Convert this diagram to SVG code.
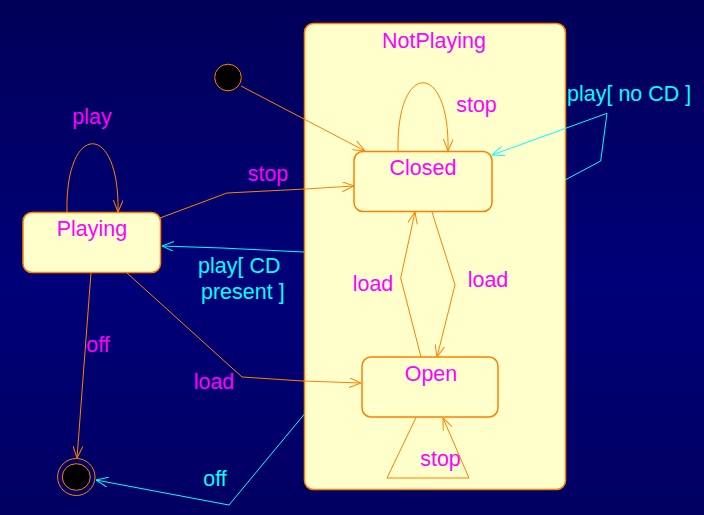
<svg xmlns="http://www.w3.org/2000/svg" width="704" height="515" viewBox="0 0 704 515">
<defs>
<linearGradient id="bg" x1="0" y1="0" x2="0" y2="1">
<stop offset="0" stop-color="#000058"/>
<stop offset="0.55" stop-color="#000078"/>
<stop offset="1" stop-color="#000062"/>
</linearGradient>
<marker id="ao" viewBox="0 0 12 10" refX="12" refY="5" markerWidth="12" markerHeight="10" orient="auto" markerUnits="userSpaceOnUse"><path d="M0,0 L12,5 L0,10" fill="none" stroke="#FF8000" stroke-width="1"/></marker>
<marker id="ac" viewBox="0 0 12 10" refX="12" refY="5" markerWidth="12" markerHeight="10" orient="auto" markerUnits="userSpaceOnUse"><path d="M0,0 L12,5 L0,10" fill="none" stroke="#00FFFF" stroke-width="1"/></marker>
</defs>
<style>
.st{fill:#FFFFCC;stroke:#FF8000;stroke-width:1.5}
.t{font-family:"Liberation Sans",Arial,sans-serif;font-size:21.5px}
.m{fill:#FF00FF}
.c{fill:#00FFFF}
.eo{fill:none;stroke:#FF8000;stroke-width:1;marker-end:url(#ao)}
.ec{fill:none;stroke:#00FFFF;stroke-width:1;marker-end:url(#ac)}
</style>
<rect x="0" y="0" width="704" height="515" fill="url(#bg)"/>
<g id="NotPlaying">
<rect class="st" x="304.5" y="23.5" width="261" height="466" rx="9"/>
<text class="t m" x="434" y="48" text-anchor="middle">NotPlaying</text>
</g>
<g id="Closed">
<rect class="st" x="354" y="151.5" width="138" height="60" rx="9"/>
<text class="t m" x="423" y="175" text-anchor="middle">Closed</text>
</g>
<g id="Open">
<rect class="st" x="362" y="357" width="136" height="60" rx="9"/>
<text class="t m" x="431" y="381" text-anchor="middle">Open</text>
</g>
<g id="Playing">
<rect class="st" x="23" y="212.5" width="137.5" height="60" rx="9"/>
<text class="t m" x="92" y="236" text-anchor="middle">Playing</text>
</g>
<g id="Initial">
<circle cx="228" cy="77.5" r="13.3" fill="#000000" stroke="#FF8000" stroke-width="1"/>
</g>
<g id="Final">
<ellipse cx="76.3" cy="477" rx="18.7" ry="18.5" fill="none" stroke="#FF8000" stroke-width="1"/>
<ellipse cx="76.3" cy="477" rx="14" ry="13.3" fill="#000000" stroke="#FF8000" stroke-width="1"/>
</g>
<g id="connectors">
<path class="eo" d="M241,86 L365,151"/>
<path class="eo" d="M398,151 C396,60 450,60 448,151"/>
<path class="eo" d="M67,212 C65,121 120,121 118,212"/>
<path class="eo" d="M160,218 L227,193 L305,189 L354,186"/>
<path class="ec" d="M304,252 L222,248 L162,246"/>
<path class="ec" d="M565,180 L600.7,161 L607,113.3 L492,155"/>
<path class="eo" d="M432,212 L455,285 L437,357"/>
<path class="eo" d="M421,357 L400.7,278 L415,212"/>
<path class="eo" d="M127,273 L242,377 L303,381 L361,383"/>
<path class="eo" d="M91,272.5 L77,458"/>
<path class="ec" d="M304.5,414 L229,505 L96,480"/>
<path class="eo" d="M416,417.5 L387,478 L469,478 L443,418"/>
<text class="t m" x="92" y="124" text-anchor="middle">play</text>
<text class="t m" x="476.5" y="111.5" text-anchor="middle">stop</text>
<text class="t m" x="268" y="181" text-anchor="middle">stop</text>
<text class="t c" x="198" y="273">play[ CD</text>
<text class="t c" x="201" y="299">present ]</text>
<text class="t c" x="567" y="101">play[ no CD ]</text>
<text class="t m" x="373" y="291" text-anchor="middle">load</text>
<text class="t m" x="488" y="287" text-anchor="middle">load</text>
<text class="t m" x="214" y="389" text-anchor="middle">load</text>
<text class="t m" x="98" y="352" text-anchor="middle">off</text>
<text class="t c" x="215" y="486" text-anchor="middle">off</text>
<text class="t m" x="440.5" y="466" text-anchor="middle">stop</text>
</g>
</svg>
